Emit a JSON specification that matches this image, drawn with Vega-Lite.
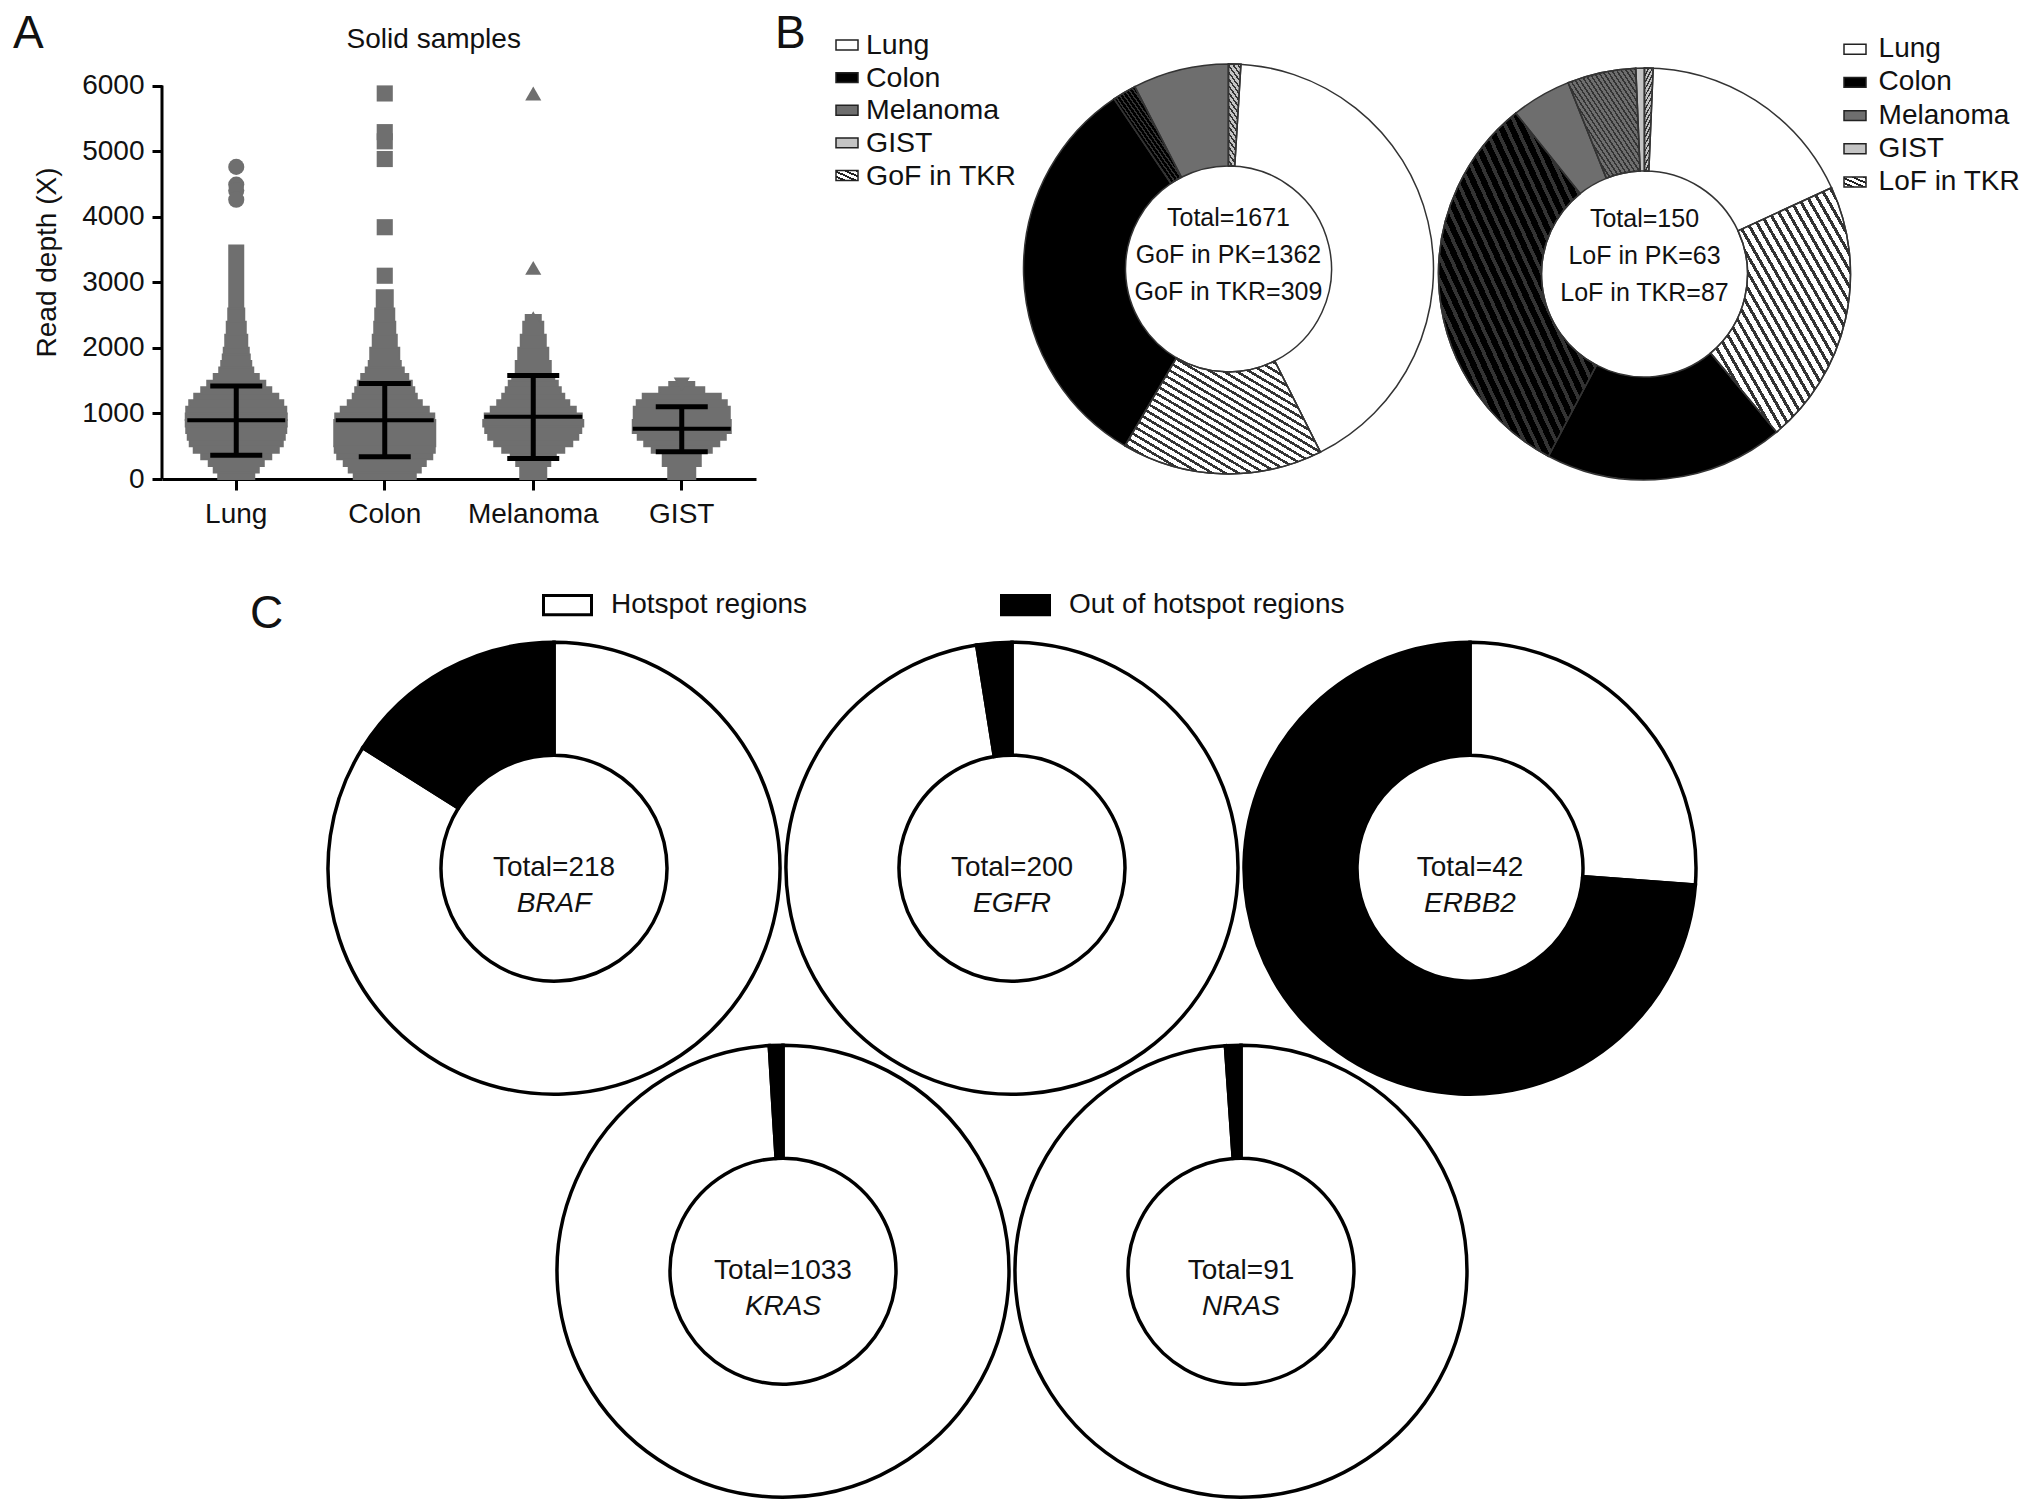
{
"$schema":"https://vega.github.io/schema/vega-lite/v6.json",
"background":"white",
"padding":{"left":13,"top":11,"right":0,"bottom":0},
"config":{"font":"Liberation Sans","view":{"stroke":null},"title":{"fontWeight":"normal","color":"#111"},"text":{"color":"#111"},"axis":{"labelColor":"#111","titleColor":"#111","domainColor":"black","tickColor":"black","grid":false}},
"datasets":{
"swarm":[
{"tissue":"Lung","lo":0,"hi":100,"n":36},{"tissue":"Lung","lo":100,"hi":200,"n":45},{"tissue":"Lung","lo":200,"hi":300,"n":55},{"tissue":"Lung","lo":300,"hi":400,"n":70},{"tissue":"Lung","lo":400,"hi":500,"n":85},{"tissue":"Lung","lo":500,"hi":600,"n":93},{"tissue":"Lung","lo":600,"hi":700,"n":97},{"tissue":"Lung","lo":700,"hi":800,"n":100},{"tissue":"Lung","lo":800,"hi":900,"n":101},{"tissue":"Lung","lo":900,"hi":1000,"n":101},{"tissue":"Lung","lo":1000,"hi":1100,"n":100},{"tissue":"Lung","lo":1100,"hi":1200,"n":94},{"tissue":"Lung","lo":1200,"hi":1300,"n":84},{"tissue":"Lung","lo":1300,"hi":1400,"n":70},{"tissue":"Lung","lo":1400,"hi":1500,"n":58},{"tissue":"Lung","lo":1500,"hi":1600,"n":45},{"tissue":"Lung","lo":1600,"hi":1700,"n":34},{"tissue":"Lung","lo":1700,"hi":1800,"n":30},{"tissue":"Lung","lo":1800,"hi":1900,"n":27},{"tissue":"Lung","lo":1900,"hi":2000,"n":25},{"tissue":"Lung","lo":2000,"hi":2200,"n":22},{"tissue":"Lung","lo":2200,"hi":2400,"n":19},{"tissue":"Lung","lo":2400,"hi":2600,"n":16},{"tissue":"Lung","lo":2600,"hi":3560,"n":14},
{"tissue":"Colon","lo":0,"hi":100,"n":62},{"tissue":"Colon","lo":100,"hi":200,"n":72},{"tissue":"Colon","lo":200,"hi":300,"n":82},{"tissue":"Colon","lo":300,"hi":400,"n":95},{"tissue":"Colon","lo":400,"hi":500,"n":100},{"tissue":"Colon","lo":500,"hi":900,"n":101},{"tissue":"Colon","lo":900,"hi":1000,"n":99},{"tissue":"Colon","lo":1000,"hi":1100,"n":88},{"tissue":"Colon","lo":1100,"hi":1200,"n":74},{"tissue":"Colon","lo":1200,"hi":1300,"n":64},{"tissue":"Colon","lo":1300,"hi":1400,"n":59},{"tissue":"Colon","lo":1400,"hi":1500,"n":54},{"tissue":"Colon","lo":1500,"hi":1600,"n":47},{"tissue":"Colon","lo":1600,"hi":1700,"n":38},{"tissue":"Colon","lo":1700,"hi":1800,"n":32},{"tissue":"Colon","lo":1800,"hi":2000,"n":29},{"tissue":"Colon","lo":2000,"hi":2200,"n":24},{"tissue":"Colon","lo":2200,"hi":2400,"n":21},{"tissue":"Colon","lo":2400,"hi":2600,"n":19},{"tissue":"Colon","lo":2600,"hi":2880,"n":16},
{"tissue":"Melanoma","lo":0,"hi":200,"n":26},{"tissue":"Melanoma","lo":200,"hi":300,"n":34},{"tissue":"Melanoma","lo":300,"hi":400,"n":45},{"tissue":"Melanoma","lo":400,"hi":500,"n":62},{"tissue":"Melanoma","lo":500,"hi":600,"n":78},{"tissue":"Melanoma","lo":600,"hi":700,"n":90},{"tissue":"Melanoma","lo":700,"hi":800,"n":96},{"tissue":"Melanoma","lo":800,"hi":900,"n":100},{"tissue":"Melanoma","lo":900,"hi":1000,"n":97},{"tissue":"Melanoma","lo":1000,"hi":1100,"n":85},{"tissue":"Melanoma","lo":1100,"hi":1200,"n":72},{"tissue":"Melanoma","lo":1200,"hi":1300,"n":62},{"tissue":"Melanoma","lo":1300,"hi":1400,"n":55},{"tissue":"Melanoma","lo":1400,"hi":1500,"n":49},{"tissue":"Melanoma","lo":1500,"hi":1600,"n":42},{"tissue":"Melanoma","lo":1600,"hi":1800,"n":35},{"tissue":"Melanoma","lo":1800,"hi":2000,"n":30},{"tissue":"Melanoma","lo":2000,"hi":2200,"n":25},{"tissue":"Melanoma","lo":2200,"hi":2400,"n":20},{"tissue":"Melanoma","lo":2400,"hi":2500,"n":15},
{"tissue":"GIST","lo":0,"hi":200,"n":27},{"tissue":"GIST","lo":200,"hi":400,"n":38},{"tissue":"GIST","lo":400,"hi":500,"n":60},{"tissue":"GIST","lo":500,"hi":600,"n":75},{"tissue":"GIST","lo":600,"hi":700,"n":88},{"tissue":"GIST","lo":700,"hi":900,"n":98},{"tissue":"GIST","lo":900,"hi":1100,"n":96},{"tissue":"GIST","lo":1100,"hi":1200,"n":90},{"tissue":"GIST","lo":1200,"hi":1300,"n":78},{"tissue":"GIST","lo":1300,"hi":1400,"n":45},{"tissue":"GIST","lo":1400,"hi":1480,"n":25}
],
"outliers":[
{"tissue":"Lung","depth":4760},{"tissue":"Lung","depth":4490},{"tissue":"Lung","depth":4400},{"tissue":"Lung","depth":4260},
{"tissue":"Colon","depth":5880},{"tissue":"Colon","depth":5290},{"tissue":"Colon","depth":5150},{"tissue":"Colon","depth":4880},{"tissue":"Colon","depth":3840},{"tissue":"Colon","depth":3100},
{"tissue":"Melanoma","depth":5880},{"tissue":"Melanoma","depth":3220},{"tissue":"Melanoma","depth":2450},
{"tissue":"GIST","depth":1440}
],
"stats":[
{"tissue":"Lung","median":895,"lo":364,"hi":1418},
{"tissue":"Colon","median":895,"lo":341,"hi":1456},
{"tissue":"Melanoma","median":948,"lo":311,"hi":1578},
{"tissue":"GIST","median":766,"lo":417,"hi":1100}
],
"segments":[
{"chart":"GoF","tissue":"Lung","type":"PK","count":705},{"chart":"GoF","tissue":"Lung","type":"TKR","count":262},{"chart":"GoF","tissue":"Colon","type":"PK","count":532},{"chart":"GoF","tissue":"Colon","type":"TKR","count":31},{"chart":"GoF","tissue":"Melanoma","type":"PK","count":125},{"chart":"GoF","tissue":"GIST","type":"TKR","count":16},
{"chart":"LoF","tissue":"Lung","type":"PK","count":27},{"chart":"LoF","tissue":"Lung","type":"TKR","count":31},{"chart":"LoF","tissue":"Colon","type":"PK","count":28},{"chart":"LoF","tissue":"Colon","type":"TKR","count":47},{"chart":"LoF","tissue":"Melanoma","type":"PK","count":7},{"chart":"LoF","tissue":"Melanoma","type":"TKR","count":8},{"chart":"LoF","tissue":"GIST","type":"PK","count":1},{"chart":"LoF","tissue":"GIST","type":"TKR","count":1}
],
"centerText":[
{"chart":"GoF","label":"Total=1671\nGoF in PK=1362\nGoF in TKR=309"},
{"chart":"LoF","label":"Total=150\nLoF in PK=63\nLoF in TKR=87"}
],
"legGoF":[{"item":"Lung"},{"item":"Colon"},{"item":"Melanoma"},{"item":"GIST"},{"item":"GoF in TKR"}],
"legLoF":[{"item":"Lung"},{"item":"Colon"},{"item":"Melanoma"},{"item":"GIST"},{"item":"LoF in TKR"}],
"hotspot":[
{"gene":"BRAF","region":"Hotspot regions","count":183},{"gene":"BRAF","region":"Out of hotspot regions","count":35},
{"gene":"EGFR","region":"Hotspot regions","count":195},{"gene":"EGFR","region":"Out of hotspot regions","count":5},
{"gene":"ERBB2","region":"Hotspot regions","count":11},{"gene":"ERBB2","region":"Out of hotspot regions","count":31},
{"gene":"KRAS","region":"Hotspot regions","count":1023},{"gene":"KRAS","region":"Out of hotspot regions","count":10},
{"gene":"NRAS","region":"Hotspot regions","count":90},{"gene":"NRAS","region":"Out of hotspot regions","count":1}
]
},
"concat":[
{
"width":594,"height":434,
"encoding":{"x":{"field":"tissue","type":"nominal","scale":{"type":"band","domain":["Lung","Colon","Melanoma","GIST"],"paddingInner":0,"paddingOuter":0},"axis":{"title":null,"labelAngle":0,"labelFontSize":28,"labelPadding":10,"tickSize":11,"tickWidth":3,"domainWidth":3}}},
"layer":[
{"data":{"name":"swarm"},"mark":{"type":"bar","color":"#6f6f6f","stroke":"#6f6f6f","strokeWidth":2},"encoding":{"y":{"field":"lo","type":"quantitative","title":"Read depth (X)","scale":{"domain":[0,6619],"nice":false},"axis":{"values":[0,1000,2000,3000,4000,5000,6000],"format":"d","domain":false,"tickSize":10,"tickWidth":3,"labelFontSize":28,"labelPadding":8,"titleFontSize":28,"titleFontWeight":"normal","titlePadding":20}},"y2":{"field":"hi"},"size":{"field":"n","type":"quantitative","scale":{"domain":[0,100],"range":[0,100]},"legend":null}}},
{"data":{"name":"outliers"},"mark":{"type":"point","filled":true,"color":"#6f6f6f","opacity":1,"size":260},"encoding":{"y":{"field":"depth","type":"quantitative","title":"Read depth (X)"},"shape":{"field":"tissue","type":"nominal","scale":{"domain":["Lung","Colon","Melanoma","GIST"],"range":["circle","square","triangle-up","triangle-down"]},"legend":null}}},
{"data":{"name":"stats"},"mark":{"type":"rule","color":"black","strokeWidth":5},"encoding":{"y":{"field":"lo","type":"quantitative","title":"Read depth (X)"},"y2":{"field":"hi"}}},
{"data":{"name":"stats"},"mark":{"type":"tick","color":"black","opacity":1,"thickness":4,"size":98},"encoding":{"y":{"field":"median","type":"quantitative","title":"Read depth (X)"}}},
{"data":{"name":"stats"},"mark":{"type":"tick","color":"black","opacity":1,"thickness":5,"size":52},"encoding":{"y":{"field":"lo","type":"quantitative","title":"Read depth (X)"}}},
{"data":{"name":"stats"},"mark":{"type":"tick","color":"black","opacity":1,"thickness":5,"size":52},"encoding":{"y":{"field":"hi","type":"quantitative","title":"Read depth (X)"}}},
{"data":{"values":[{}]},"mark":{"type":"rule","color":"black","strokeWidth":3},"encoding":{"x":{"datum":"Lung","bandPosition":0},"y":{"datum":0},"y2":{"datum":6000}}},
{"data":{"values":[{}]},"mark":{"type":"text","text":"Solid samples","fontSize":28,"align":"center","baseline":"middle"},"encoding":{"x":{"datum":"Colon","bandPosition":0.83},"y":{"datum":6692}}},
{"data":{"values":[{}]},"mark":{"type":"text","text":"A","fontSize":46,"align":"left","baseline":"alphabetic","dx":-149,"dy":3},"encoding":{"x":{"datum":"Lung","bandPosition":0},"y":{"datum":6619}}}
]
},
{
"width":182,"height":130.5,
"encoding":{"y":{"field":"item","type":"nominal","scale":{"type":"point","domain":["Lung","Colon","Melanoma","GIST","GoF in TKR"],"padding":0},"axis":null}},
"layer":[
{"data":{"name":"legGoF"},"mark":{"type":"point","shape":"M-1,-0.45H1V0.45H-1Z","size":484,"filled":true,"opacity":1,"stroke":"#222","strokeWidth":1.5},"encoding":{"fill":{"field":"item","type":"nominal","scale":{"domain":["Lung","Colon","Melanoma","GIST","GoF in TKR"],"range":["white","black","#6e6e6e","#c4c4c4","white"]},"legend":null}}},
{"data":{"name":"legGoF"},"transform":[{"filter":"datum.item === 'GoF in TKR'"}],"mark":{"type":"point","shape":"M-1,-0.45H1V0.45H-1Z","size":484,"filled":true,"opacity":1,"strokeWidth":0,"fill":{"gradient":"linear","x1":0,"y1":1,"x2":1,"y2":0,"stops":[{"offset":0,"color":"transparent"},{"offset":0.15,"color":"transparent"},{"offset":0.15,"color":"#222"},{"offset":0.25,"color":"#222"},{"offset":0.25,"color":"transparent"},{"offset":0.4,"color":"transparent"},{"offset":0.4,"color":"#222"},{"offset":0.5,"color":"#222"},{"offset":0.5,"color":"transparent"},{"offset":0.65,"color":"transparent"},{"offset":0.65,"color":"#222"},{"offset":0.75,"color":"#222"},{"offset":0.75,"color":"transparent"},{"offset":0.9,"color":"transparent"},{"offset":0.9,"color":"#222"},{"offset":1,"color":"#222"}]}}},
{"data":{"name":"legGoF"},"mark":{"type":"text","align":"left","baseline":"middle","dx":19,"fontSize":28.5},"encoding":{"text":{"field":"item"}}},
{"data":{"values":[{}]},"mark":{"type":"text","text":"B","fontSize":46,"align":"left","baseline":"alphabetic","dx":-72,"dy":3},"encoding":{"y":{"datum":"Lung"}}}
]
},
{
"width":581,"height":447.8,
"layer":[
{"data":{"name":"segments"},"transform":[{"filter":"datum.chart === 'GoF'"},{"stack":"count","groupby":["chart"],"as":["t0","t1"]}],"mark":{"type":"arc","innerRadius":103,"outerRadius":205,"stroke":"#333","strokeWidth":1.5},"encoding":{"theta":{"field":"t0","type":"quantitative"},"theta2":{"field":"t1"},"fill":{"field":"tissue","type":"nominal","scale":{"domain":["Lung","Colon","Melanoma","GIST"],"range":["white","black","#6e6e6e","#c4c4c4"]},"legend":null}}},
{"data":{"name":"segments"},"transform":[{"filter":"datum.chart === 'GoF'"},{"stack":"count","groupby":["chart"],"as":["t0","t1"]},{"filter":"datum.type === 'TKR'"}],"mark":{"type":"arc","innerRadius":103,"outerRadius":205,"stroke":"#333","strokeWidth":1.5,"fill":{"gradient":"linear","x1":0,"y1":1,"x2":1,"y2":0,"stops":[{"offset":0,"color":"transparent"},{"offset":0.0207,"color":"transparent"},{"offset":0.0207,"color":"#333"},{"offset":0.0333,"color":"#333"},{"offset":0.0333,"color":"transparent"},{"offset":0.054,"color":"transparent"},{"offset":0.054,"color":"#333"},{"offset":0.0667,"color":"#333"},{"offset":0.0667,"color":"transparent"},{"offset":0.0873,"color":"transparent"},{"offset":0.0873,"color":"#333"},{"offset":0.1,"color":"#333"},{"offset":0.1,"color":"transparent"},{"offset":0.1207,"color":"transparent"},{"offset":0.1207,"color":"#333"},{"offset":0.1333,"color":"#333"},{"offset":0.1333,"color":"transparent"},{"offset":0.154,"color":"transparent"},{"offset":0.154,"color":"#333"},{"offset":0.1667,"color":"#333"},{"offset":0.1667,"color":"transparent"},{"offset":0.1873,"color":"transparent"},{"offset":0.1873,"color":"#333"},{"offset":0.2,"color":"#333"},{"offset":0.2,"color":"transparent"},{"offset":0.2207,"color":"transparent"},{"offset":0.2207,"color":"#333"},{"offset":0.2333,"color":"#333"},{"offset":0.2333,"color":"transparent"},{"offset":0.254,"color":"transparent"},{"offset":0.254,"color":"#333"},{"offset":0.2667,"color":"#333"},{"offset":0.2667,"color":"transparent"},{"offset":0.2873,"color":"transparent"},{"offset":0.2873,"color":"#333"},{"offset":0.3,"color":"#333"},{"offset":0.3,"color":"transparent"},{"offset":0.3207,"color":"transparent"},{"offset":0.3207,"color":"#333"},{"offset":0.3333,"color":"#333"},{"offset":0.3333,"color":"transparent"},{"offset":0.354,"color":"transparent"},{"offset":0.354,"color":"#333"},{"offset":0.3667,"color":"#333"},{"offset":0.3667,"color":"transparent"},{"offset":0.3873,"color":"transparent"},{"offset":0.3873,"color":"#333"},{"offset":0.4,"color":"#333"},{"offset":0.4,"color":"transparent"},{"offset":0.4207,"color":"transparent"},{"offset":0.4207,"color":"#333"},{"offset":0.4333,"color":"#333"},{"offset":0.4333,"color":"transparent"},{"offset":0.454,"color":"transparent"},{"offset":0.454,"color":"#333"},{"offset":0.4667,"color":"#333"},{"offset":0.4667,"color":"transparent"},{"offset":0.4873,"color":"transparent"},{"offset":0.4873,"color":"#333"},{"offset":0.5,"color":"#333"},{"offset":0.5,"color":"transparent"},{"offset":0.5207,"color":"transparent"},{"offset":0.5207,"color":"#333"},{"offset":0.5333,"color":"#333"},{"offset":0.5333,"color":"transparent"},{"offset":0.554,"color":"transparent"},{"offset":0.554,"color":"#333"},{"offset":0.5667,"color":"#333"},{"offset":0.5667,"color":"transparent"},{"offset":0.5873,"color":"transparent"},{"offset":0.5873,"color":"#333"},{"offset":0.6,"color":"#333"},{"offset":0.6,"color":"transparent"},{"offset":0.6207,"color":"transparent"},{"offset":0.6207,"color":"#333"},{"offset":0.6333,"color":"#333"},{"offset":0.6333,"color":"transparent"},{"offset":0.654,"color":"transparent"},{"offset":0.654,"color":"#333"},{"offset":0.6667,"color":"#333"},{"offset":0.6667,"color":"transparent"},{"offset":0.6873,"color":"transparent"},{"offset":0.6873,"color":"#333"},{"offset":0.7,"color":"#333"},{"offset":0.7,"color":"transparent"},{"offset":0.7207,"color":"transparent"},{"offset":0.7207,"color":"#333"},{"offset":0.7333,"color":"#333"},{"offset":0.7333,"color":"transparent"},{"offset":0.754,"color":"transparent"},{"offset":0.754,"color":"#333"},{"offset":0.7667,"color":"#333"},{"offset":0.7667,"color":"transparent"},{"offset":0.7873,"color":"transparent"},{"offset":0.7873,"color":"#333"},{"offset":0.8,"color":"#333"},{"offset":0.8,"color":"transparent"},{"offset":0.8207,"color":"transparent"},{"offset":0.8207,"color":"#333"},{"offset":0.8333,"color":"#333"},{"offset":0.8333,"color":"transparent"},{"offset":0.854,"color":"transparent"},{"offset":0.854,"color":"#333"},{"offset":0.8667,"color":"#333"},{"offset":0.8667,"color":"transparent"},{"offset":0.8873,"color":"transparent"},{"offset":0.8873,"color":"#333"},{"offset":0.9,"color":"#333"},{"offset":0.9,"color":"transparent"},{"offset":0.9207,"color":"transparent"},{"offset":0.9207,"color":"#333"},{"offset":0.9333,"color":"#333"},{"offset":0.9333,"color":"transparent"},{"offset":0.954,"color":"transparent"},{"offset":0.954,"color":"#333"},{"offset":0.9667,"color":"#333"},{"offset":0.9667,"color":"transparent"},{"offset":0.9873,"color":"transparent"},{"offset":0.9873,"color":"#333"},{"offset":1,"color":"#333"}]}},"encoding":{"theta":{"field":"t0","type":"quantitative"},"theta2":{"field":"t1"}}},
{"data":{"name":"centerText"},"transform":[{"filter":"datum.chart === 'GoF'"}],"mark":{"type":"text","lineBreak":"\n","lineHeight":37,"fontSize":25,"dy":-51,"align":"center","baseline":"middle"},"encoding":{"text":{"field":"label"}}}
]
},
{
"width":251,"height":458,
"layer":[
{"data":{"name":"segments"},"transform":[{"filter":"datum.chart === 'LoF'"},{"stack":"count","groupby":["chart"],"as":["t0","t1"]}],"mark":{"type":"arc","innerRadius":103,"outerRadius":206,"stroke":"#333","strokeWidth":1.5},"encoding":{"theta":{"field":"t0","type":"quantitative"},"theta2":{"field":"t1"},"fill":{"field":"tissue","type":"nominal","scale":{"domain":["Lung","Colon","Melanoma","GIST"],"range":["white","black","#6e6e6e","#c4c4c4"]},"legend":null}}},
{"data":{"name":"segments"},"transform":[{"filter":"datum.chart === 'LoF'"},{"stack":"count","groupby":["chart"],"as":["t0","t1"]},{"filter":"datum.type === 'TKR'"}],"mark":{"type":"arc","innerRadius":103,"outerRadius":206,"stroke":"#333","strokeWidth":1.5,"fill":{"gradient":"linear","x1":0,"y1":1,"x2":1,"y2":0,"stops":[{"offset":0,"color":"transparent"},{"offset":0.0207,"color":"transparent"},{"offset":0.0207,"color":"#333"},{"offset":0.0333,"color":"#333"},{"offset":0.0333,"color":"transparent"},{"offset":0.054,"color":"transparent"},{"offset":0.054,"color":"#333"},{"offset":0.0667,"color":"#333"},{"offset":0.0667,"color":"transparent"},{"offset":0.0873,"color":"transparent"},{"offset":0.0873,"color":"#333"},{"offset":0.1,"color":"#333"},{"offset":0.1,"color":"transparent"},{"offset":0.1207,"color":"transparent"},{"offset":0.1207,"color":"#333"},{"offset":0.1333,"color":"#333"},{"offset":0.1333,"color":"transparent"},{"offset":0.154,"color":"transparent"},{"offset":0.154,"color":"#333"},{"offset":0.1667,"color":"#333"},{"offset":0.1667,"color":"transparent"},{"offset":0.1873,"color":"transparent"},{"offset":0.1873,"color":"#333"},{"offset":0.2,"color":"#333"},{"offset":0.2,"color":"transparent"},{"offset":0.2207,"color":"transparent"},{"offset":0.2207,"color":"#333"},{"offset":0.2333,"color":"#333"},{"offset":0.2333,"color":"transparent"},{"offset":0.254,"color":"transparent"},{"offset":0.254,"color":"#333"},{"offset":0.2667,"color":"#333"},{"offset":0.2667,"color":"transparent"},{"offset":0.2873,"color":"transparent"},{"offset":0.2873,"color":"#333"},{"offset":0.3,"color":"#333"},{"offset":0.3,"color":"transparent"},{"offset":0.3207,"color":"transparent"},{"offset":0.3207,"color":"#333"},{"offset":0.3333,"color":"#333"},{"offset":0.3333,"color":"transparent"},{"offset":0.354,"color":"transparent"},{"offset":0.354,"color":"#333"},{"offset":0.3667,"color":"#333"},{"offset":0.3667,"color":"transparent"},{"offset":0.3873,"color":"transparent"},{"offset":0.3873,"color":"#333"},{"offset":0.4,"color":"#333"},{"offset":0.4,"color":"transparent"},{"offset":0.4207,"color":"transparent"},{"offset":0.4207,"color":"#333"},{"offset":0.4333,"color":"#333"},{"offset":0.4333,"color":"transparent"},{"offset":0.454,"color":"transparent"},{"offset":0.454,"color":"#333"},{"offset":0.4667,"color":"#333"},{"offset":0.4667,"color":"transparent"},{"offset":0.4873,"color":"transparent"},{"offset":0.4873,"color":"#333"},{"offset":0.5,"color":"#333"},{"offset":0.5,"color":"transparent"},{"offset":0.5207,"color":"transparent"},{"offset":0.5207,"color":"#333"},{"offset":0.5333,"color":"#333"},{"offset":0.5333,"color":"transparent"},{"offset":0.554,"color":"transparent"},{"offset":0.554,"color":"#333"},{"offset":0.5667,"color":"#333"},{"offset":0.5667,"color":"transparent"},{"offset":0.5873,"color":"transparent"},{"offset":0.5873,"color":"#333"},{"offset":0.6,"color":"#333"},{"offset":0.6,"color":"transparent"},{"offset":0.6207,"color":"transparent"},{"offset":0.6207,"color":"#333"},{"offset":0.6333,"color":"#333"},{"offset":0.6333,"color":"transparent"},{"offset":0.654,"color":"transparent"},{"offset":0.654,"color":"#333"},{"offset":0.6667,"color":"#333"},{"offset":0.6667,"color":"transparent"},{"offset":0.6873,"color":"transparent"},{"offset":0.6873,"color":"#333"},{"offset":0.7,"color":"#333"},{"offset":0.7,"color":"transparent"},{"offset":0.7207,"color":"transparent"},{"offset":0.7207,"color":"#333"},{"offset":0.7333,"color":"#333"},{"offset":0.7333,"color":"transparent"},{"offset":0.754,"color":"transparent"},{"offset":0.754,"color":"#333"},{"offset":0.7667,"color":"#333"},{"offset":0.7667,"color":"transparent"},{"offset":0.7873,"color":"transparent"},{"offset":0.7873,"color":"#333"},{"offset":0.8,"color":"#333"},{"offset":0.8,"color":"transparent"},{"offset":0.8207,"color":"transparent"},{"offset":0.8207,"color":"#333"},{"offset":0.8333,"color":"#333"},{"offset":0.8333,"color":"transparent"},{"offset":0.854,"color":"transparent"},{"offset":0.854,"color":"#333"},{"offset":0.8667,"color":"#333"},{"offset":0.8667,"color":"transparent"},{"offset":0.8873,"color":"transparent"},{"offset":0.8873,"color":"#333"},{"offset":0.9,"color":"#333"},{"offset":0.9,"color":"transparent"},{"offset":0.9207,"color":"transparent"},{"offset":0.9207,"color":"#333"},{"offset":0.9333,"color":"#333"},{"offset":0.9333,"color":"transparent"},{"offset":0.954,"color":"transparent"},{"offset":0.954,"color":"#333"},{"offset":0.9667,"color":"#333"},{"offset":0.9667,"color":"transparent"},{"offset":0.9873,"color":"transparent"},{"offset":0.9873,"color":"#333"},{"offset":1,"color":"#333"}]}},"encoding":{"theta":{"field":"t0","type":"quantitative"},"theta2":{"field":"t1"}}},
{"data":{"name":"centerText"},"transform":[{"filter":"datum.chart === 'LoF'"}],"mark":{"type":"text","lineBreak":"\n","lineHeight":37,"fontSize":25,"dy":-55,"align":"center","baseline":"middle"},"encoding":{"text":{"field":"label"}}}
]
},
{
"width":170,"height":141.2,
"data":{"name":"legLoF"},
"encoding":{"y":{"field":"item","type":"nominal","scale":{"type":"point","domain":["Lung","Colon","Melanoma","GIST","LoF in TKR"],"padding":0.1265},"axis":null}},
"layer":[
{"mark":{"type":"point","shape":"M-1,-0.45H1V0.45H-1Z","size":484,"filled":true,"opacity":1,"stroke":"#222","strokeWidth":1.5},"encoding":{"fill":{"field":"item","type":"nominal","scale":{"domain":["Lung","Colon","Melanoma","GIST","LoF in TKR"],"range":["white","black","#6e6e6e","#c4c4c4","white"]},"legend":null}}},
{"transform":[{"filter":"datum.item === 'LoF in TKR'"}],"mark":{"type":"point","shape":"M-1,-0.45H1V0.45H-1Z","size":484,"filled":true,"opacity":1,"strokeWidth":0,"fill":{"gradient":"linear","x1":0,"y1":1,"x2":1,"y2":0,"stops":[{"offset":0,"color":"transparent"},{"offset":0.15,"color":"transparent"},{"offset":0.15,"color":"#222"},{"offset":0.25,"color":"#222"},{"offset":0.25,"color":"transparent"},{"offset":0.4,"color":"transparent"},{"offset":0.4,"color":"#222"},{"offset":0.5,"color":"#222"},{"offset":0.5,"color":"transparent"},{"offset":0.65,"color":"transparent"},{"offset":0.65,"color":"#222"},{"offset":0.75,"color":"#222"},{"offset":0.75,"color":"transparent"},{"offset":0.9,"color":"transparent"},{"offset":0.9,"color":"#222"},{"offset":1,"color":"#222"}]}}},
{"mark":{"type":"text","align":"left","baseline":"middle","dx":23.6,"fontSize":28},"encoding":{"text":{"field":"item"}}}
]
},
{
"width":594,"height":403,
"data":{"name":"hotspot"},
"encoding":{"x":{"field":"gene","type":"nominal","scale":{"type":"point","domain":["BRAF","KRAS","EGFR","NRAS","ERBB2"],"range":[392,1308],"padding":0},"axis":null}},
"layer":[
{"transform":[{"stack":"count","groupby":["gene"],"offset":"normalize","as":["t0","t1"]},{"filter":{"field":"gene","oneOf":["BRAF","EGFR","ERBB2"]}}],"mark":{"type":"arc","innerRadius":113,"outerRadius":226,"stroke":"black","strokeWidth":3.5},"encoding":{"y":{"datum":"top","type":"nominal","scale":{"type":"point","domain":["top","bottom"],"padding":0},"axis":null},"theta":{"field":"t0","type":"quantitative","scale":{"domain":[0,1]}},"theta2":{"field":"t1"},"fill":{"field":"region","type":"nominal","scale":{"domain":["Hotspot regions","Out of hotspot regions"],"range":["white","black"]},"legend":{"orient":"none","legendX":380,"legendY":-289,"direction":"horizontal","title":null,"symbolType":"M-1,-0.4H1V0.4H-1Z","symbolSize":2304,"symbolStrokeColor":"black","symbolStrokeWidth":3,"labelFontSize":28,"labelOffset":18,"labelLimit":0,"columnPadding":187,"labelColor":"#111","padding":0}}}},
{"transform":[{"stack":"count","groupby":["gene"],"offset":"normalize","as":["t0","t1"]},{"filter":{"field":"gene","oneOf":["KRAS","NRAS"]}}],"mark":{"type":"arc","innerRadius":113,"outerRadius":226,"stroke":"black","strokeWidth":3.5},"encoding":{"y":{"datum":"bottom","type":"nominal"},"theta":{"field":"t0","type":"quantitative"},"theta2":{"field":"t1"},"fill":{"field":"region","type":"nominal"}}},
{"transform":[{"filter":{"field":"gene","oneOf":["BRAF","EGFR","ERBB2"]}},{"aggregate":[{"op":"sum","field":"count","as":"total"}],"groupby":["gene"]},{"calculate":"'Total=' + datum.total","as":"label"}],"mark":{"type":"text","fontSize":28,"align":"center","baseline":"middle"},"encoding":{"y":{"datum":"top","type":"nominal"},"text":{"field":"label"}}},
{"transform":[{"filter":{"field":"gene","oneOf":["BRAF","EGFR","ERBB2"]}},{"aggregate":[{"op":"sum","field":"count","as":"total"}],"groupby":["gene"]}],"mark":{"type":"text","fontSize":28,"fontStyle":"italic","dy":36,"align":"center","baseline":"middle"},"encoding":{"y":{"datum":"top","type":"nominal"},"text":{"field":"gene"}}},
{"transform":[{"filter":{"field":"gene","oneOf":["KRAS","NRAS"]}},{"aggregate":[{"op":"sum","field":"count","as":"total"}],"groupby":["gene"]},{"calculate":"'Total=' + datum.total","as":"label"}],"mark":{"type":"text","fontSize":28,"align":"center","baseline":"middle"},"encoding":{"y":{"datum":"bottom","type":"nominal"},"text":{"field":"label"}}},
{"transform":[{"filter":{"field":"gene","oneOf":["KRAS","NRAS"]}},{"aggregate":[{"op":"sum","field":"count","as":"total"}],"groupby":["gene"]}],"mark":{"type":"text","fontSize":28,"fontStyle":"italic","dy":36,"align":"center","baseline":"middle"},"encoding":{"y":{"datum":"bottom","type":"nominal"},"text":{"field":"gene"}}},
{"data":{"values":[{}]},"mark":{"type":"text","text":"C","fontSize":46,"align":"left","baseline":"alphabetic","dx":-304,"dy":-240},"encoding":{"x":{"datum":"BRAF"},"y":{"datum":"top","type":"nominal"}}}
]
}
],
"columns":5,
"align":"none",
"bounds":"flush",
"spacing":{"row":365.2,"column":0},
"resolve":{"scale":{"fill":"independent","theta":"independent","size":"independent","shape":"independent","x":"independent","y":"independent"},"legend":{"fill":"independent"}}
}
